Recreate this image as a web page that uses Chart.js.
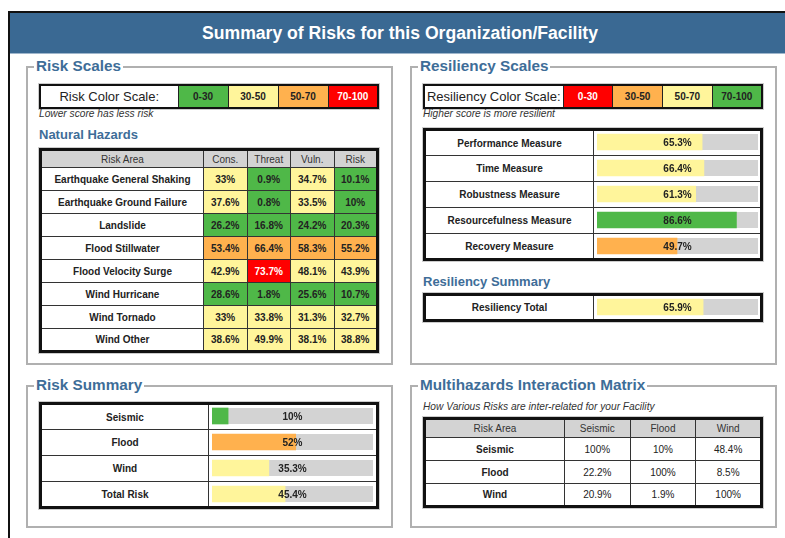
<!DOCTYPE html>
<html>
<head>
<meta charset="utf-8">
<script src="https://cdn.jsdelivr.net/npm/chart.js@4.4.1/dist/chart.umd.min.js"></script>
<style>
  body { margin: 0; background: #fff; font-family: "Liberation Sans", Arial, sans-serif; color: #222; overflow: hidden; }
  #frame { position: absolute; left: 8px; top: 11px; width: 800px; height: 560px; border-left: 2px solid #111; border-top: 2px solid #111; }
  #header { position: absolute; left: 10px; top: 13px; width: 780px; height: 40px; background: #3a6993; color: #fff;
            font-weight: bold; font-size: 17.6px; line-height: 41px; text-align: center; border-bottom: 1px solid #9fb6cc; }
  .box { position: absolute; border: 2px solid #b0b0b0; box-sizing: border-box; }
  .legend { position: absolute; top: -11px; left: 6px; background: #fff; padding: 0 2px; font-weight: bold; font-size: 15.3px;
            line-height: 18px; color: #3e6d98; white-space: nowrap; }
  .h2 { position: absolute; font-weight: bold; font-size: 13px; color: #3e6d98; white-space: nowrap; }
  .note { position: absolute; font-style: italic; font-size: 10.2px; color: #333; white-space: nowrap; }
  table { position: absolute; border-collapse: collapse; table-layout: fixed; border: 3px solid #111; box-shadow: 0 0 0 1px #ccc; }
  td, th { padding: 0; text-align: center; font-size: 10px; border: 1px solid #333; overflow: hidden; white-space: nowrap; }
  th { background: #d3d3d3; font-weight: normal; color: #333; }
  td.lab { font-weight: bold; background: #fff; }
  td.val { font-weight: bold; }
  .scale td { border: 1px solid #222; font-weight: bold; height: 21px; }
  .scale td.name { font-weight: normal; font-size: 13px; background: #fff; }
  canvas { position: absolute; }
</style>
</head>
<body>
<div id="frame"></div>
<div id="header">Summary of Risks for this Organization/Facility</div>

<div class="box" style="left:26px;top:66px;width:367px;height:299px;"><div class="legend">Risk Scales</div></div>
<div class="box" style="left:410px;top:66px;width:367px;height:299px;"><div class="legend">Resiliency Scales</div></div>
<div class="box" style="left:26px;top:385px;width:367px;height:143px;"><div class="legend">Risk Summary</div></div>
<div class="box" style="left:410px;top:385px;width:367px;height:143px;"><div class="legend">Multihazards Interaction Matrix</div></div>

<table id="riskScale" class="scale" style="left:39px;top:84px;width:340px;border-width:2px;"></table>
<div class="note" style="left:39px;top:108px;">Lower score has less risk</div>
<div class="h2" style="left:39px;top:127px;">Natural Hazards</div>
<table id="hazards" style="left:39px;top:148px;width:340px;"></table>

<table id="resScale" class="scale" style="left:423px;top:84px;width:340px;border-width:2px;"></table>
<div class="note" style="left:423px;top:108px;">Higher score is more resilient</div>
<table id="resTable" style="left:423px;top:128px;width:340px;"></table>
<canvas id="resChart" width="161" height="130" style="left:597px;top:129px;"></canvas>
<div class="h2" style="left:423px;top:274px;">Resiliency Summary</div>
<table id="totTable" style="left:423px;top:293px;width:340px;"></table>
<canvas id="totChart" width="161" height="26" style="left:597px;top:294px;"></canvas>

<table id="sumTable" style="left:39px;top:402px;width:340px;"></table>
<canvas id="sumChart" width="161" height="104" style="left:212px;top:403px;"></canvas>

<div class="note" style="left:423px;top:401px;">How Various Risks are inter-related for your Facility</div>
<table id="matrix" style="left:423px;top:417px;width:340px;"></table>

<script>
// ---- data ----
const riskBands = ['0-30', '30-50', '50-70', '70-100'];
const resBands = ['0-30', '30-50', '50-70', '70-100'];

const hazardRows = ['Earthquake General Shaking', 'Earthquake Ground Failure', 'Landslide', 'Flood Stillwater',
                    'Flood Velocity Surge', 'Wind Hurricane', 'Wind Tornado', 'Wind Other'];
const hazardCols = ['Cons.', 'Threat', 'Vuln.', 'Risk'];
const consValues = [33, 37.6, 26.2, 53.4, 42.9, 28.6, 33, 38.6];
const threatValues = [0.9, 0.8, 16.8, 66.4, 73.7, 1.8, 33.8, 49.9];
const vulnValues = [34.7, 33.5, 24.2, 58.3, 48.1, 25.6, 31.3, 38.1];
const riskValues = [10.1, 10, 20.3, 55.2, 43.9, 10.7, 32.7, 38.8];

const resLabels = ['Performance Measure', 'Time Measure', 'Robustness Measure', 'Resourcefulness Measure', 'Recovery Measure'];
const resValues = [65.3, 66.4, 61.3, 86.6, 49.7];
const totLabels = ['Resiliency Total'];
const totValues = [65.9];

const sumLabels = ['Seismic', 'Flood', 'Wind', 'Total Risk'];
const sumValues = [10, 52, 35.3, 45.4];

const matrixLabels = ['Seismic', 'Flood', 'Wind'];
const seismicRow = [100, 10, 48.4];
const floodRow = [22.2, 100, 8.5];
const windRow = [20.9, 1.9, 100];

// ---- colours ----
const GREEN = '#4fb848', YELLOW = '#fff59b', ORANGE = '#ffb14e', RED = '#ff0000', TRACK = '#d3d3d3';
function riskColor(v) { return v < 30 ? GREEN : v < 50 ? YELLOW : v < 70 ? ORANGE : RED; }
function resColor(v) { return v < 30 ? RED : v < 50 ? ORANGE : v < 70 ? YELLOW : GREEN; }
const pct = v => v + '%';

// ---- colour scale strips ----
function scaleRow(id, name, bands, colors, nameW) {
  let html = '<colgroup><col style="width:' + nameW + 'px">' + bands.map(() => '<col>').join('') + '</colgroup><tr>';
  html += '<td class="name">' + name + '</td>';
  bands.forEach((b, i) => {
    const fg = colors[i] === RED ? '#fff' : '#222';
    html += '<td style="background:' + colors[i] + ';color:' + fg + '">' + b + '</td>';
  });
  document.getElementById(id).innerHTML = html + '</tr>';
}
scaleRow('riskScale', 'Risk Color Scale:', riskBands, [GREEN, YELLOW, ORANGE, RED], 138);
scaleRow('resScale', 'Resiliency Color Scale:', resBands, [RED, ORANGE, YELLOW, GREEN], 139);

// ---- natural hazards table ----
(function () {
  const cols = [consValues, threatValues, vulnValues, riskValues];
  let html = '<colgroup><col style="width:163px"><col><col><col><col></colgroup>';
  html += '<tr style="height:18px"><th>Risk Area</th>' + hazardCols.map(c => '<th>' + c + '</th>').join('') + '</tr>';
  hazardRows.forEach((r, i) => {
    html += '<tr style="height:23px"><td class="lab">' + r + '</td>';
    cols.forEach(c => {
      const v = c[i], bg = riskColor(v);
      html += '<td class="val" style="background:' + bg + ';color:' + (bg === RED ? '#fff' : '#222') + '">' + pct(v) + '</td>';
    });
    html += '</tr>';
  });
  document.getElementById('hazards').innerHTML = html;
})();

// ---- label tables behind the bar charts ----
function labelTable(id, labels, labW, rowH) {
  let html = '<colgroup><col style="width:' + labW + 'px"><col></colgroup>';
  labels.forEach(l => { html += '<tr style="height:' + rowH + 'px"><td class="lab">' + l + '</td><td></td></tr>'; });
  document.getElementById(id).innerHTML = html;
}
labelTable('resTable', resLabels, 169, 26);
labelTable('totTable', totLabels, 169, 26);
labelTable('sumTable', sumLabels, 168, 26);

// ---- matrix ----
(function () {
  const rows = [seismicRow, floodRow, windRow];
  let html = '<colgroup><col style="width:140px"><col><col><col></colgroup>';
  html += '<tr style="height:19px"><th>Risk Area</th>' + matrixLabels.map(c => '<th>' + c + '</th>').join('') + '</tr>';
  matrixLabels.forEach((r, i) => {
    html += '<tr style="height:23px"><td class="lab">' + r + '</td>' +
            rows[i].map(v => '<td>' + pct(v) + '</td>').join('') + '</tr>';
  });
  document.getElementById('matrix').innerHTML = html;
})();

// ---- progress bars (Chart.js) ----
const trackPlugin = {
  id: 'track',
  beforeDatasetsDraw(chart) {
    const ctx = chart.ctx, area = chart.chartArea;
    ctx.save();
    ctx.fillStyle = TRACK;
    chart.getDatasetMeta(0).data.forEach(el => {
      ctx.fillRect(area.left, el.y - el.height / 2, area.right - area.left, el.height);
    });
    ctx.restore();
  },
  afterDatasetsDraw(chart) {
    const ctx = chart.ctx, area = chart.chartArea;
    const values = chart.data.datasets[0].data;
    ctx.save();
    ctx.fillStyle = '#222';
    ctx.font = 'bold 10px "Liberation Sans", Arial, sans-serif';
    ctx.textAlign = 'center';
    ctx.textBaseline = 'middle';
    chart.getDatasetMeta(0).data.forEach((el, i) => {
      ctx.fillText(pct(values[i]), (area.left + area.right) / 2, el.y + 1);
    });
    ctx.restore();
  }
};

function barChart(id, labels, values, colorFn) {
  new Chart(document.getElementById(id), {
    type: 'bar',
    data: {
      labels: labels,
      datasets: [{
        data: values,
        backgroundColor: values.map(colorFn),
        borderWidth: 0,
        barThickness: 16
      }]
    },
    options: {
      indexAxis: 'y',
      responsive: false,
      animation: false,
      layout: { padding: 0 },
      plugins: { legend: { display: false }, tooltip: { enabled: false } },
      scales: {
        x: { display: false, min: 0, max: 100 },
        y: { display: false }
      }
    },
    plugins: [trackPlugin]
  });
}

barChart('resChart', resLabels, resValues, resColor);
barChart('totChart', totLabels, totValues, resColor);
barChart('sumChart', sumLabels, sumValues, riskColor);
</script>
</body>
</html>
